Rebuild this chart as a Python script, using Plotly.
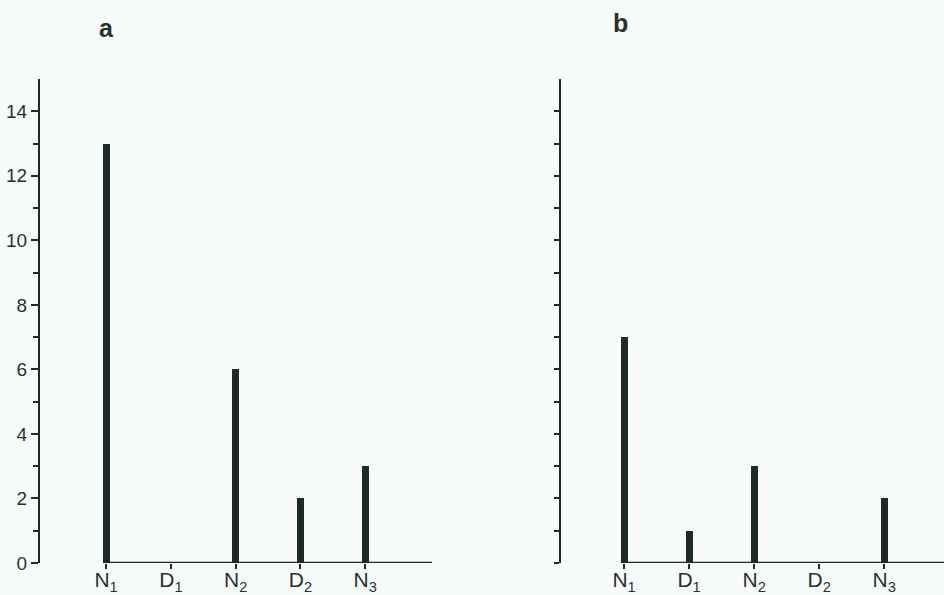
import plotly.graph_objects as go

categories = ["N<sub>1</sub>", "D<sub>1</sub>", "N<sub>2</sub>", "D<sub>2</sub>", "N<sub>3</sub>"]
values_a = [13, 0, 6, 2, 3]
values_b = [7, 1, 3, 0, 2]
panel_titles = ["a", "b"]
y_major = [0, 2, 4, 6, 8, 10, 12, 14]

W, H = 944, 595
INK = "#1d2a25"
TXT = "#2b302e"
BG = "#f8fbfb"

def px_x(p):
    return p / W

def px_y(p):
    return 1 - p / H

xpos = list(range(len(categories)))

fig = go.Figure()
fig.add_trace(go.Bar(x=xpos, y=values_a, width=0.11, marker=dict(color=INK, line=dict(width=0)),
                     xaxis="x", yaxis="y", showlegend=False))
fig.add_trace(go.Bar(x=xpos, y=values_b, width=0.11, marker=dict(color=INK, line=dict(width=0)),
                     xaxis="x2", yaxis="y2", showlegend=False))

font = dict(family="Liberation Sans, Arial, sans-serif", color=TXT)
ydom = [px_y(563), px_y(79)]

common_x = dict(tickvals=xpos, ticktext=categories, ticks="outside", ticklen=5, tickwidth=1.5,
                tickcolor=INK, showline=False, showgrid=False, zeroline=False, automargin=False,
                ticklabelstandoff=-7,
                tickfont=dict(size=21, **font), fixedrange=True)
fig.update_layout(
    xaxis=dict(domain=[px_x(40), px_x(432)], range=[-1.02, 5.03], anchor="y", **common_x),
    xaxis2=dict(domain=[px_x(561), px_x(944)], range=[-0.97, 4.92], anchor="y2", **common_x),
    yaxis=dict(domain=ydom, range=[0, 15], anchor="x", showline=True, linecolor=INK, linewidth=2,
               tickvals=y_major, ticks="outside", ticklen=7, tickwidth=1.5, tickcolor=INK,
               minor=dict(tickvals=[1, 3, 5, 7, 9, 11, 13], ticks="outside", ticklen=5,
                          tickwidth=1.5, tickcolor=INK), automargin=False,
               showgrid=False, zeroline=False, tickfont=dict(size=19, **font)),
    yaxis2=dict(domain=ydom, range=[0, 15], anchor="x2", showline=True, linecolor=INK, linewidth=2,
                tickvals=list(range(0, 15)), ticks="outside", ticklen=5, tickwidth=1.5, tickcolor=INK,
                showticklabels=False, showgrid=False, zeroline=False, automargin=False),
    width=W, height=H, margin=dict(l=0, r=0, t=0, b=0),
    paper_bgcolor=BG, plot_bgcolor=BG, bargap=0,
)

# x baselines starting at the first category
fig.add_shape(type="line", xref="x", yref="y", x0=0, x1=5.03, y0=0, y1=0,
              line=dict(color=INK, width=2.5), layer="above")
fig.add_shape(type="line", xref="x2", yref="y2", x0=0, x1=4.92, y0=0, y1=0,
              line=dict(color=INK, width=2.5), layer="above")

fig.add_annotation(text="<b>" + panel_titles[0] + "</b>", x=px_x(106), y=px_y(28), xref="paper", yref="paper",
                   xanchor="center", yanchor="middle", showarrow=False, font=dict(size=25, **font))
fig.add_annotation(text="<b>" + panel_titles[1] + "</b>", x=px_x(620), y=px_y(23), xref="paper", yref="paper",
                   xanchor="center", yanchor="middle", showarrow=False, font=dict(size=25, **font))

fig.write_html("out.html", config={"displayModeBar": False},
               post_script="document.body.style.margin='0';document.body.style.padding='0';document.body.style.overflow='hidden';")
